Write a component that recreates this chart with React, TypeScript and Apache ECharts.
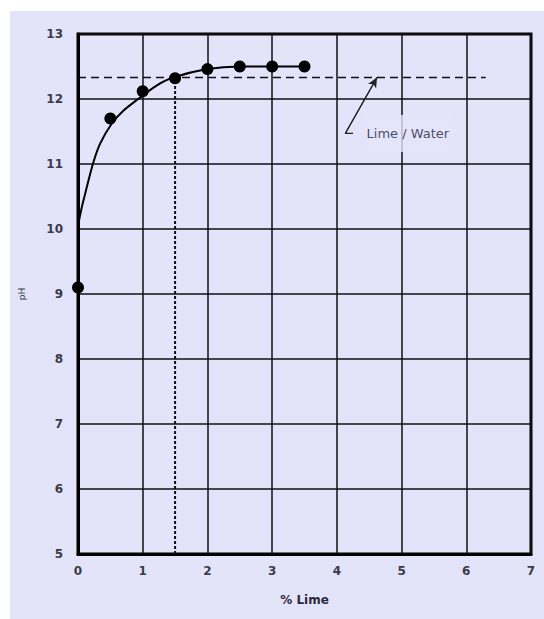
import React, { useEffect, useRef } from "react";
import * as echarts from "echarts";

const xTicks = [0, 1, 2, 3, 4, 5, 6, 7];
const yTicks = [5, 6, 7, 8, 9, 10, 11, 12, 13];

const limeX = [0, 0.5, 1, 1.5, 2, 2.5, 3, 3.5];
const phY = [9.1, 11.7, 12.12, 12.32, 12.46, 12.5, 12.5, 12.5];

const curveX = [0, 0.005, 0.06, 0.11, 0.23, 0.34, 0.52, 0.7, 0.93, 1.22, 1.47, 2, 2.5, 3.5];
const curveY = [9.1, 10.03, 10.34, 10.54, 11.0, 11.31, 11.62, 11.82, 12.0, 12.21, 12.33, 12.46, 12.5, 12.5];

const limeWaterPh = 12.33;
const limeWaterEndX = 6.3;
const saturationLime = 1.5;

const annotationText = "Lime / Water";
const annotationCorner = [4.13, 11.47];
const annotationTail = [4.25, 11.47];
const annotationTip = [4.62, 12.33];
const annotationLabelAt = [4.39, 11.47];

const BG = "#e3e3fa";

export default function App() {
  const ref = useRef<HTMLDivElement>(null);
  useEffect(() => {
    if (!ref.current) return;
    const chart = echarts.init(ref.current, undefined, { renderer: "svg" });
    const font = "'DejaVu Sans', 'Liberation Sans', Arial, sans-serif";
    chart.setOption({
      animation: false,
      backgroundColor: "#ffffff",
      textStyle: { fontFamily: font },
      graphic: [
        {
          type: "rect",
          shape: { x: 10, y: 11, width: 534, height: 608 },
          style: { fill: BG },
          z: -10,
          silent: true,
        },
      ],
      grid: {
        left: 78,
        top: 34,
        right: 13,
        bottom: 65,
        show: true,
        borderColor: "#000",
        borderWidth: 3,
        backgroundColor: "transparent",
      },
      xAxis: {
        type: "value",
        min: xTicks[0],
        max: xTicks[xTicks.length - 1],
        interval: 1,
        name: "% Lime",
        nameLocation: "middle",
        nameGap: 40,
        nameTextStyle: { color: "#2a2a3a", fontSize: 12, fontWeight: "bold", fontFamily: font },
        axisLine: { show: true, lineStyle: { color: "#000", width: 3 } },
        axisTick: { show: false },
        axisLabel: { color: "#3a3a48", fontSize: 12, fontWeight: "bold", margin: 11, fontFamily: font },
        splitLine: { show: true, lineStyle: { color: "#111", width: 1.5 } },
      },
      yAxis: {
        type: "value",
        min: yTicks[0],
        max: yTicks[yTicks.length - 1],
        interval: 1,
        name: "pH",
        nameLocation: "middle",
        nameGap: 52,
        nameRotate: 90,
        nameTextStyle: { color: "#3a3a48", fontSize: 9, fontFamily: font },
        axisLine: { show: true, lineStyle: { color: "#000", width: 3 } },
        axisTick: { show: false },
        axisLabel: { color: "#3a3a48", fontSize: 12, fontWeight: "bold", margin: 15, fontFamily: font },
        splitLine: { show: true, lineStyle: { color: "#111", width: 1.5 } },
      },
      series: [
        {
          type: "line",
          data: [
            [0, limeWaterPh],
            [limeWaterEndX, limeWaterPh],
          ],
          showSymbol: false,
          symbol: "none",
          lineStyle: { color: "#111", width: 1.5, type: [8, 5] },
          z: 3,
        },
        {
          type: "line",
          data: [
            [saturationLime, yTicks[0]],
            [saturationLime, limeWaterPh],
          ],
          symbol: "none",
          lineStyle: { color: "#111", width: 2, type: [3, 2] },
          z: 3,
        },
        {
          type: "line",
          data: curveX.map((x, i) => [x, curveY[i]]),
          symbol: "none",
          smooth: 0.3,
          lineStyle: { color: "#000", width: 2 },
          z: 4,
        },
        {
          type: "scatter",
          data: limeX.map((x, i) => [x, phY[i]]),
          symbol: "circle",
          symbolSize: 12,
          itemStyle: { color: "#000", opacity: 1 },
          z: 5,
        },
        {
          type: "line",
          data: [annotationTail, annotationCorner, annotationTip],
          symbol: "none",
          lineStyle: { color: "#222", width: 1.2 },
          z: 4,
          markLine: {
            silent: true,
            symbol: ["none", "arrow"],
            symbolSize: [7, 10],
            label: { show: false },
            lineStyle: { color: "#222", width: 1.2, type: "solid" },
            data: [[{ coord: annotationCorner }, { coord: annotationTip }]],
          },
        },
        {
          type: "scatter",
          data: [annotationLabelAt],
          symbolSize: 1,
          itemStyle: { color: "transparent" },
          z: 6,
          label: {
            show: true,
            position: "right",
            distance: 0,
            formatter: annotationText,
            color: "#22223a",
            fontSize: 13,
            fontFamily: font,
            backgroundColor: BG,
            padding: [12, 4, 12, 4],
          },
        },
      ],
    });
    return () => chart.dispose();
  }, []);
  return (
    <div
      ref={ref}
      style={{ position: "absolute", left: 0, top: 0, width: 544, height: 619 }}
    />
  );
}
